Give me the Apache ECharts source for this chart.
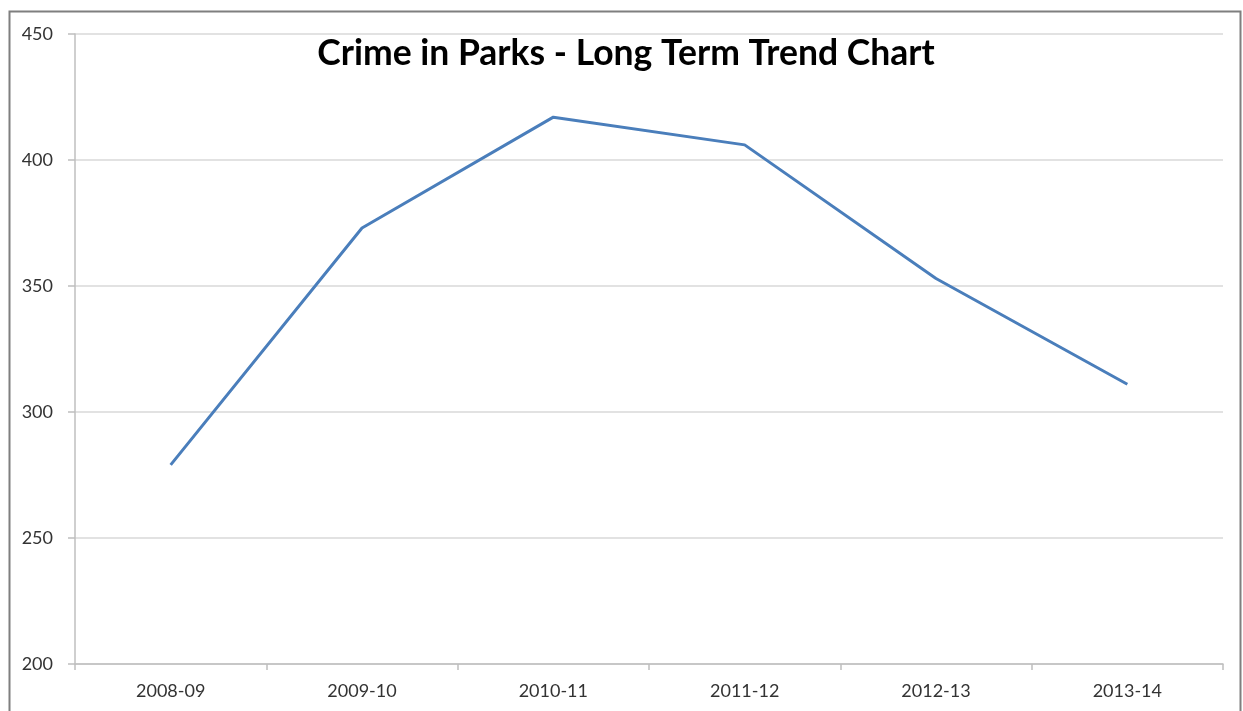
<!DOCTYPE html>
<html><head><meta charset="utf-8">
<script src="https://cdn.jsdelivr.net/npm/echarts@6/dist/echarts.min.js"></script>
<style>html,body{margin:0;padding:0;background:#fff}#c{width:1243px;height:711px}</style>
</head><body><div id="c"></div>
<script>
const categories = ['2008-09','2009-10','2010-11','2011-12','2012-13','2013-14'];
const crimes = [279, 373, 417, 406, 353, 311];
const yTicks = {min: 200, max: 450, interval: 50};
const titleText = 'Crime in Parks - Long Term Trend Chart';

const chart = echarts.init(document.getElementById('c'), null, {renderer: 'canvas'});
chart.setOption({
  animation: false,
  backgroundColor: '#ffffff',
  title: {
    text: titleText, left: 621, top: 31, textAlign: 'center',
    textStyle: {fontFamily: 'Lato', fontWeight: 'bold', fontSize: 35.5, color: '#000'}
  },
  graphic: [{
    type: 'rect', silent: true, z: 100,
    shape: {x: 9.5, y: 11.5, width: 1231, height: 720},
    style: {fill: 'none', stroke: '#7f7f7f', lineWidth: 2}
  }],
  grid: {left: 75, right: 20, top: 34, bottom: 47, containLabel: false},
  xAxis: {
    type: 'category', data: categories, boundaryGap: true,
    axisLine: {lineStyle: {color: '#bfbfbf', width: 1.5}},
    axisTick: {show: true, alignWithLabel: false, length: 6, lineStyle: {color: '#bfbfbf', width: 1.5}},
    axisLabel: {margin: 18, fontFamily: 'Lato', fontSize: 18, color: '#333333'}
  },
  yAxis: {
    type: 'value', min: yTicks.min, max: yTicks.max, interval: yTicks.interval,
    axisLine: {show: true, lineStyle: {color: '#bfbfbf', width: 1.5}},
    axisTick: {show: true, length: 7, lineStyle: {color: '#bfbfbf', width: 1.5}},
    axisLabel: {margin: 22, fontFamily: 'Lato', fontSize: 18, color: '#333333'},
    splitLine: {lineStyle: {color: '#d9d9d9', width: 1.5}}
  },
  series: [{
    type: 'line', data: crimes, symbol: 'none',
    lineStyle: {color: '#4a7ebb', width: 3}
  }]
});
</script></body></html>
